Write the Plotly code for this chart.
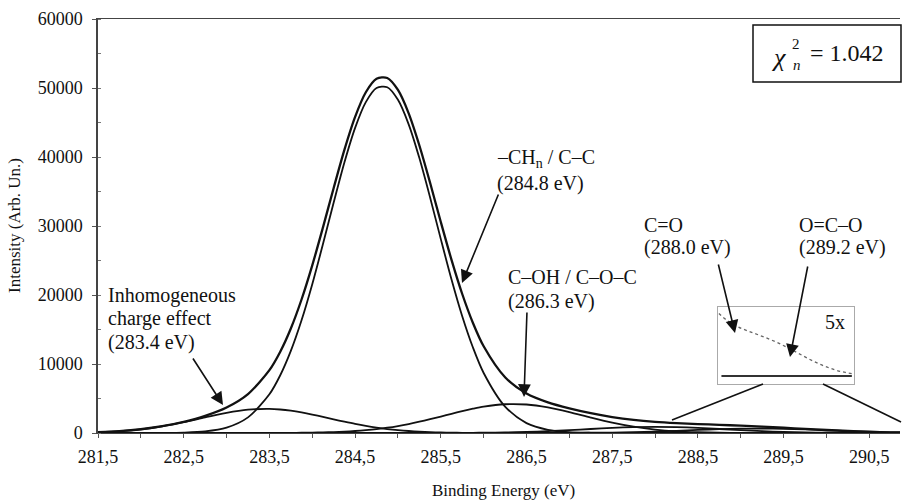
import plotly.graph_objects as go

# ---------------- data ----------------
energy = [281.5, 281.75, 282.0, 282.25, 282.5, 282.75, 283.0, 283.25, 283.5,
          283.625, 283.75, 283.875, 284.0, 284.125, 284.25, 284.375, 284.5, 284.625, 284.75,
          284.875, 285.0, 285.125, 285.25, 285.375, 285.5, 285.625, 285.75, 285.875, 286.0,
          286.25, 286.5, 286.75, 287.0, 287.25, 287.5, 287.75, 288.0, 288.25, 288.5,
          288.75, 289.0, 289.25, 289.5, 289.75, 290.0, 290.25, 290.5, 290.75, 291.0]

peak_284_8 = [0, 0, 2, 12, 57, 227, 776, 2265, 5608,
              8330, 11896, 16332, 21564, 27380, 33400, 39200, 44214, 47947, 49990,
              50109, 48290, 44737, 39840, 34129, 28100, 22243, 16925, 12384, 8700,
              3828, 1438, 462, 126, 30, 6, 1, 0, 0, 0,
              0, 0, 0, 0, 0, 0, 0, 0, 0, 0]

peak_283_4 = [119, 268, 541, 973, 1569, 2264, 2923, 3378, 3493,
              3406, 3231, 2981, 2675, 2334, 1981, 1636, 1313, 1026, 779,
              576, 413, 289, 196, 130, 83, 52, 32, 19, 11,
              3, 1, 0, 0, 0, 0, 0, 0, 0, 0,
              0, 0, 0, 0, 0, 0, 0, 0, 0, 0]

peak_286_3 = [0, 0, 0, 0, 0, 0, 1, 3, 7,
              13, 21, 35, 56, 88, 134, 200, 290, 411, 568,
              767, 1011, 1301, 1632, 1998, 2388, 2786, 3171, 3521, 3817,
              4167, 4127, 3707, 3019, 2231, 1495, 909, 501, 250, 114,
              47, 17, 6, 2, 0, 0, 0, 0, 0, 0]

peak_288_0 = [0, 0, 0, 0, 0, 0, 0, 0, 0,
              0, 0, 0, 0, 0, 0, 0, 0, 0, 0,
              0, 1, 1, 3, 4, 7, 11, 17, 26, 40,
              82, 155, 266, 412, 580, 740, 857, 900, 857, 740,
              580, 412, 266, 155, 82, 40, 18, 7, 3, 1]

peak_289_2 = [0, 0, 0, 0, 0, 0, 0, 0, 0,
              0, 0, 0, 0, 0, 0, 0, 0, 0, 0,
              0, 0, 0, 0, 0, 0, 0, 0, 0, 0,
              0, 2, 6, 15, 33, 68, 126, 211, 321, 443,
              555, 630, 649, 606, 513, 394, 275, 174, 99, 52]

total_fit = [119, 268, 543, 985, 1626, 2491, 3700, 5646, 9108,
             11749, 15148, 19348, 24295, 29802, 35515, 41036, 45817, 49384, 51337,
             51452, 49715, 46328, 41671, 36261, 30578, 25092, 20145, 15950, 12568,
             8080, 5723, 4441, 3572, 2874, 2309, 1893, 1612, 1428, 1297,
             1182, 1059, 921, 763, 595, 434, 293, 181, 102, 53]

x_tick_vals = [281.5, 282.5, 283.5, 284.5, 285.5, 286.5, 287.5, 288.5, 289.5, 290.5]
x_tick_text = ["281,5", "282,5", "283,5", "284,5", "285,5", "286,5", "287,5", "288,5", "289,5", "290,5"]
y_tick_vals = [0, 10000, 20000, 30000, 40000, 50000, 60000]
y_tick_text = ["0", "10000", "20000", "30000", "40000", "50000", "60000"]

X_RANGE = [281.5, 290.858]
Y_RANGE = [0, 60000]
INSET_X = [287.79, 290.95]
INSET_Y = [-232, 2000]

# ---------------- geometry helpers (pixel -> paper / data) ----------------
L, R, T, B = 98, 900, 19, 433
def px(x):
    return (x - L) / (R - L)
def py(y):
    return (B - y) / (B - T)
def dx(x):
    return X_RANGE[0] + (x - L) / (R - L) * (X_RANGE[1] - X_RANGE[0])
def dy(y):
    return (B - y) / (B - T) * (Y_RANGE[1] - Y_RANGE[0])

FONT = "Liberation Serif"
BLACK = "#111111"

fig = go.Figure()

comp_style = dict(color=BLACK, width=1.8, shape="spline", smoothing=0.8)
for name, ys in [("283.4 eV", peak_283_4), ("284.8 eV", peak_284_8),
                 ("286.3 eV", peak_286_3), ("288.0 eV", peak_288_0),
                 ("289.2 eV", peak_289_2)]:
    fig.add_trace(go.Scatter(x=energy, y=ys, mode="lines", name=name,
                             line=comp_style, showlegend=False, hoverinfo="skip"))

fig.add_trace(go.Scatter(x=energy, y=total_fit, mode="lines", name="fit",
                         line=dict(color=BLACK, width=2.3, shape="spline", smoothing=0.8),
                         showlegend=False, hoverinfo="skip"))

# inset (5x)
fig.add_trace(go.Scatter(x=energy, y=total_fit, mode="lines", xaxis="x2", yaxis="y2",
                         line=dict(color="#666666", width=1.3, dash="dot", shape="spline"),
                         showlegend=False, hoverinfo="skip"))

fig.update_layout(
    width=902, height=502,
    margin=dict(l=L, r=902 - R, t=T, b=502 - B),
    paper_bgcolor="white", plot_bgcolor="white",
    font=dict(family=FONT, color=BLACK, size=18),
    showlegend=False,
    xaxis=dict(range=X_RANGE, tickvals=x_tick_vals, ticktext=x_tick_text,
               ticks="outside", ticklen=4, tickcolor="#555", showgrid=False,
               zeroline=False, showline=True, linecolor="#444", linewidth=1.2,
               mirror=True, tickfont=dict(size=18, family=FONT, color=BLACK),
               minor=dict(dtick=0.5, tick0=281.5, ticks="outside", ticklen=4, tickcolor="#555"),
               ticklabelstandoff=3),
    yaxis=dict(range=Y_RANGE, tickvals=y_tick_vals, ticktext=y_tick_text,
               ticks="outside", ticklen=4,
               tickcolor="#555", showgrid=False, zeroline=False, showline=True,
               linecolor="#444", linewidth=1.5,
               tickfont=dict(size=18, family=FONT, color=BLACK),
               minor=dict(dtick=5000, ticks="inside", ticklen=3, tickcolor="#777"),
               ticklabelstandoff=6),
    xaxis2=dict(domain=[px(718), px(854)], range=INSET_X, anchor="y2",
                showticklabels=False, ticks="", showgrid=False, zeroline=False,
                showline=True, linecolor="#aaaaaa", linewidth=1, mirror=True),
    yaxis2=dict(domain=[py(384), py(307)], range=INSET_Y, anchor="x2",
                showticklabels=False, ticks="", showgrid=False, zeroline=False,
                showline=True, linecolor="#aaaaaa", linewidth=1, mirror=True),
)

shapes = []
# inset baseline
shapes.append(dict(type="line", xref="x2", yref="y2", x0=INSET_X[0] + 0.08, x1=INSET_X[1] - 0.05,
                   y0=0, y1=0, line=dict(color="#333", width=1.8)))
# zoom connector lines
shapes.append(dict(type="line", xref="paper", yref="paper", x0=px(763), y0=py(384),
                   x1=px(672), y1=py(420), line=dict(color=BLACK, width=1.6)))
shapes.append(dict(type="line", xref="paper", yref="paper", x0=px(823), y0=py(384),
                   x1=px(901), y1=py(422), line=dict(color=BLACK, width=1.6)))
# chi-square box
shapes.append(dict(type="rect", xref="paper", yref="paper", x0=px(753), x1=px(901),
                   y0=py(82), y1=py(25), line=dict(color=BLACK, width=1.5),
                   fillcolor="white"))
fig.update_layout(shapes=shapes)

ann = []
def text(x, y, s, size=20, anchor="left", italic=False):
    ann.append(dict(x=px(x), y=py(y), xref="paper", yref="paper", text=s,
                    showarrow=False, xanchor=anchor, yanchor="middle",
                    font=dict(size=size, family=FONT, color=BLACK,
                              style="italic" if italic else "normal")))

def arrow(tail, tip):
    ann.append(dict(x=dx(tip[0]), y=dy(tip[1]), ax=dx(tail[0]), ay=dy(tail[1]),
                    xref="x", yref="y", axref="x", ayref="y", text="",
                    showarrow=True, arrowhead=2, arrowsize=1.6, arrowwidth=1.6,
                    arrowcolor=BLACK))

text(106, 295, "Inhomogeneous")
text(106, 318, "charge effect")
text(106, 342, "(283.4 eV)")
arrow((192, 357), (223, 405))

text(495, 158, "–CH<sub>n</sub> / C–C")
text(495, 183, "(284.8 eV)")
arrow((499, 193), (462, 283))

text(506, 277, "C–OH / C–O–C")
text(506, 302, "(286.3 eV)")
arrow((527, 311), (524, 397))

text(642, 225, "C=O")
text(642, 247, "(288.0 eV)")
arrow((718, 263), (735, 333))

text(797, 225, "O=C–O")
text(797, 247, "(289.2 eV)")
arrow((808, 265), (790, 357))

text(835, 322, "5x", size=20, anchor="center")

# chi-square label
text(778, 58, "χ", size=26, anchor="center", italic=True)
text(796, 44, "2", size=15, anchor="center")
text(797, 65, "n", size=15, anchor="center", italic=True)
text(808, 53, "= 1.042", size=24)

# axis titles
ann.append(dict(x=px(503), y=py(490), xref="paper", yref="paper",
                text="Binding Energy (eV)", showarrow=False, xanchor="center",
                yanchor="middle", font=dict(size=17, family=FONT, color=BLACK)))
ann.append(dict(x=px(14), y=py(226), xref="paper", yref="paper",
                text="Intensity (Arb. Un.)", showarrow=False, xanchor="center",
                yanchor="middle", textangle=-90,
                font=dict(size=17, family=FONT, color=BLACK)))

fig.update_layout(annotations=ann)
fig.write_html("out.html")
